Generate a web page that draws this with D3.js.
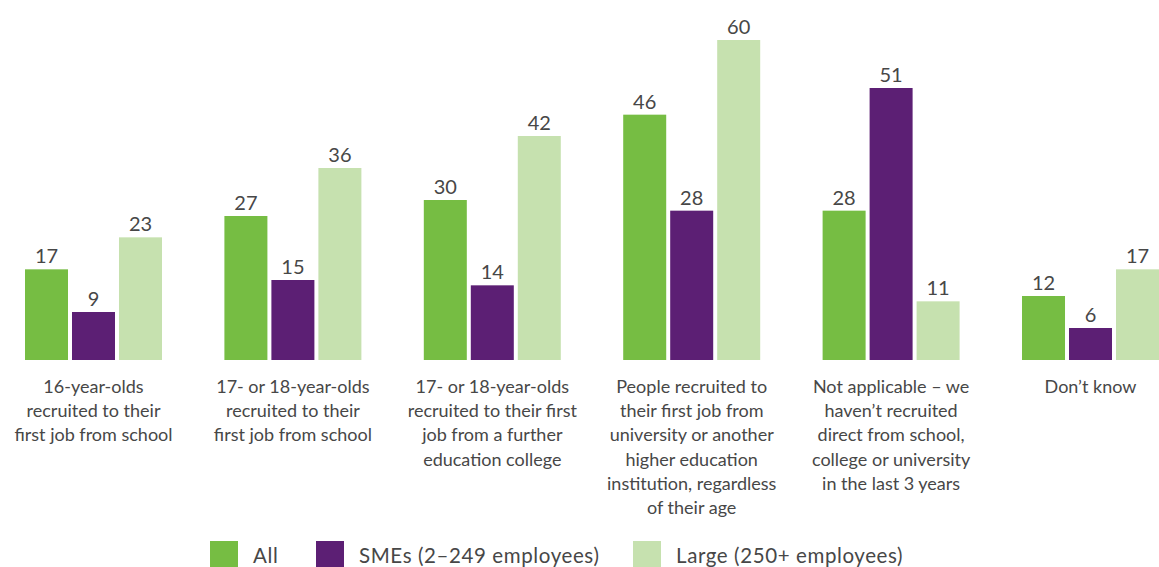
<!DOCTYPE html>
<html>
<head>
<meta charset="utf-8">
<script src="https://cdn.jsdelivr.net/npm/d3@7"></script>
<style>
  html, body { margin: 0; padding: 0; background: #fff; }
  svg { display: block; font-family: Lato, "Open Sans", sans-serif; font-weight: 400; }
</style>
</head>
<body>
<svg id="chart" width="1159" height="567"></svg>
<script>
// Survey categories, one label line per entry
const categories = [
  ["16-year-olds", "recruited to their", "first job from school"],
  ["17- or 18-year-olds", "recruited to their", "first job from school"],
  ["17- or 18-year-olds", "recruited to their first", "job from a further", "education college"],
  ["People recruited to", "their first job from", "university or another", "higher education", "institution, regardless", "of their age"],
  ["Not applicable \u2013 we", "haven\u2019t recruited", "direct from school,", "college or university", "in the last 3 years"],
  ["Don\u2019t know"]
];
const seriesNames = ["All", "SMEs (2\u2013249 employees)", "Large (250+ employees)"];
const allValues   = [17, 27, 30, 46, 28, 12];
const smeValues   = [9, 15, 14, 28, 51, 6];
const largeValues = [23, 36, 42, 60, 11, 17];
const seriesColors = ["#76bd43", "#5c1f74", "#c6e1af"];

const seriesValues = [allValues, smeValues, largeValues];

const svg = d3.select("#chart");
const textColor = "#474747";

const x0 = d3.scaleBand()
  .domain(d3.range(categories.length))
  .range([25, 1159])
  .paddingInner(0.313)
  .paddingOuter(0);

const x1 = d3.scaleBand()
  .domain(d3.range(seriesNames.length))
  .range([0, x0.bandwidth()])
  .paddingInner(0.085);

const y = d3.scaleLinear().domain([0, 60]).range([360, 40]);

const groups = svg.selectAll("g.group")
  .data(categories)
  .join("g")
  .attr("class", "group")
  .attr("transform", (d, i) => `translate(${x0(i)},0)`);

groups.each(function (cat, ci) {
  const g = d3.select(this);
  const vals = seriesValues.map(s => s[ci]);
  g.selectAll("rect")
    .data(vals)
    .join("rect")
    .attr("x", (d, si) => x1(si))
    .attr("width", x1.bandwidth())
    .attr("y", d => y(d))
    .attr("height", d => y(0) - y(d))
    .attr("fill", (d, si) => seriesColors[si]);

  g.selectAll("text.value")
    .data(vals)
    .join("text")
    .attr("class", "value")
    .attr("x", (d, si) => x1(si) + x1.bandwidth() / 2)
    .attr("y", d => y(d) - 6)
    .attr("text-anchor", "middle")
    .attr("font-size", 20)
    .attr("fill", textColor)
    .text(d => d);

  const label = g.append("text")
    .attr("class", "cat")
    .attr("x", x0.bandwidth() / 2)
    .attr("y", 393)
    .attr("text-anchor", "middle")
    .attr("font-size", 18)
    .attr("fill", textColor);
  label.selectAll("tspan")
    .data(cat)
    .join("tspan")
    .attr("x", x0.bandwidth() / 2)
    .attr("dy", (d, i) => i === 0 ? 0 : 24.2)
    .text(d => d);
});

// Legend
const legendX = [210, 316, 633];
const legend = svg.append("g").attr("class", "legend");
seriesNames.forEach((name, i) => {
  legend.append("rect")
    .attr("x", legendX[i])
    .attr("y", 541)
    .attr("width", 28)
    .attr("height", 28)
    .attr("fill", seriesColors[i]);
  legend.append("text")
    .attr("x", legendX[i] + 43)
    .attr("y", 563)
    .attr("font-size", 20.5)
    .attr("letter-spacing", 0.6)
    .attr("fill", textColor)
    .text(name);
});
</script>
</body>
</html>
